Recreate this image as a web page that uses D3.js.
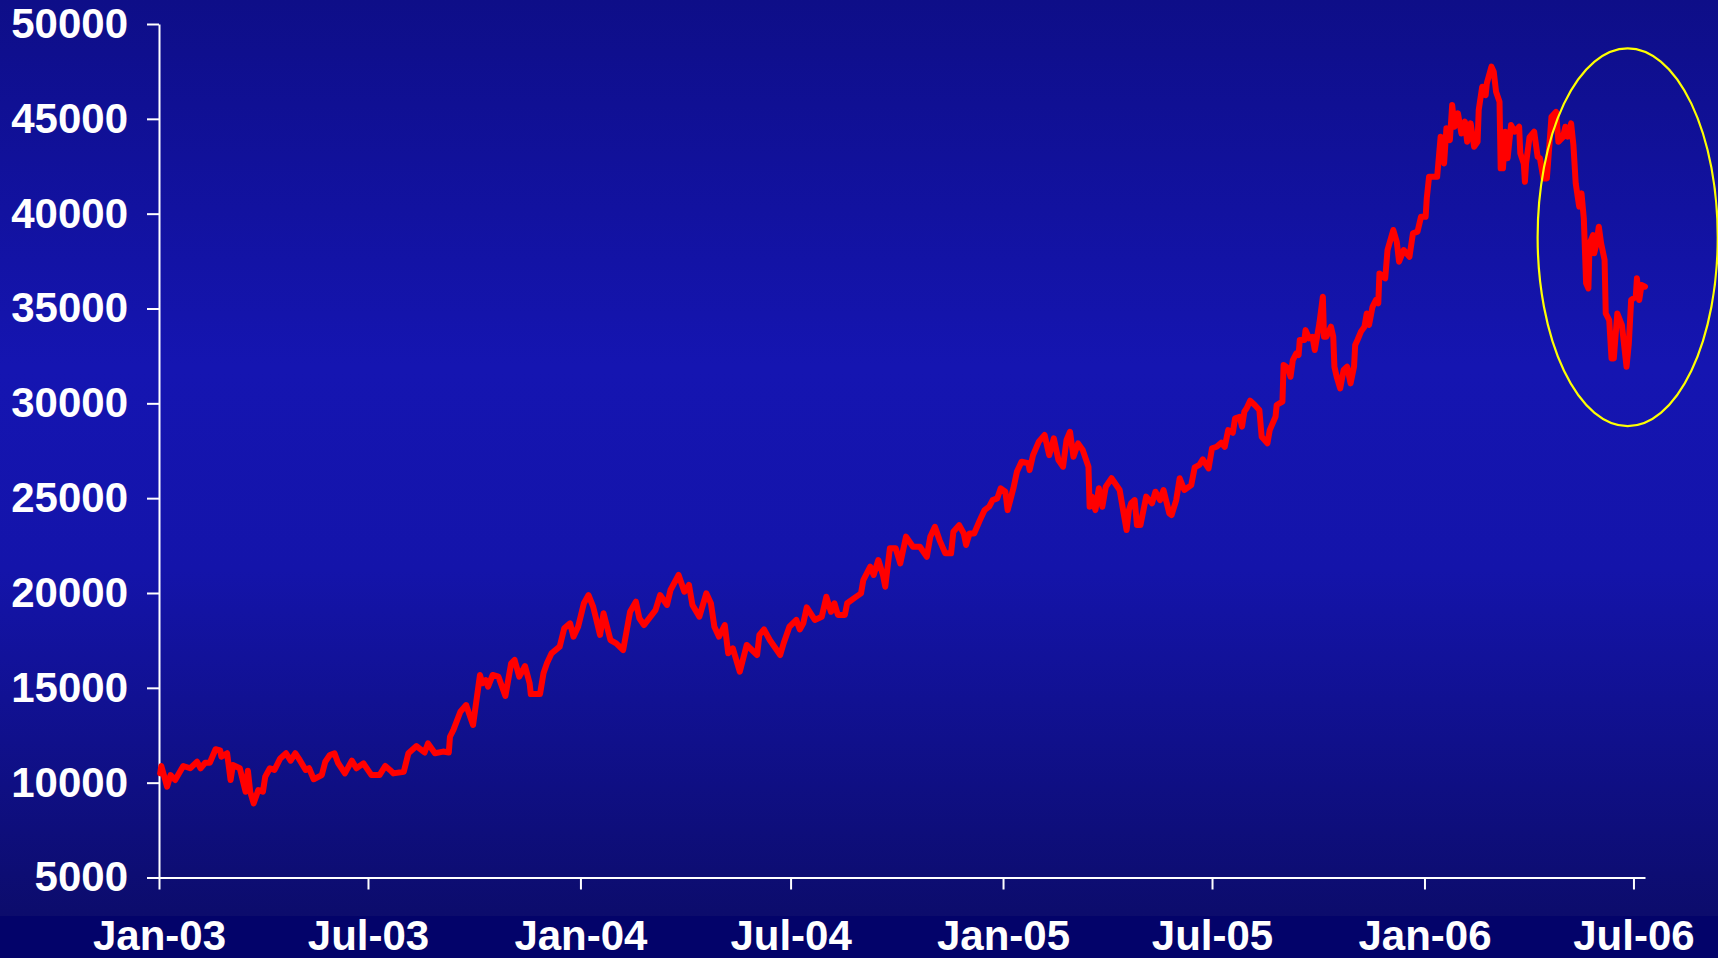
<!DOCTYPE html>
<html>
<head>
<meta charset="utf-8">
<script src="https://cdn.jsdelivr.net/npm/d3@7"></script>
<style>
  html, body { margin: 0; padding: 0; background: #0c0c6a; }
  svg { display: block; }
  text { font-family: "Liberation Sans", Arial, sans-serif; font-weight: bold; }
</style>
</head>
<body>
<svg id="chart" width="1718" height="958"></svg>
<script>
// Index level, sampled closes per year: [date, value]
const index2003 = [
  ["2003-01-02",10490],["2003-01-03",10880],["2003-01-08",9790],["2003-01-11",10400],
  ["2003-01-15",10140],["2003-01-22",10880],["2003-01-28",10760],["2003-02-03",11100],
  ["2003-02-06",10760],["2003-02-10",11050],["2003-02-14",11050],["2003-02-19",11760],
  ["2003-02-23",11700],["2003-02-24",11370],["2003-03-01",11550],["2003-03-04",10140],
  ["2003-03-06",10930],["2003-03-12",10760],["2003-03-17",9520],["2003-03-19",10630],
  ["2003-03-21",9520],["2003-03-24",8910],["2003-03-28",9610],["2003-04-01",9520],
  ["2003-04-03",10310],["2003-04-07",10760],["2003-04-11",10670],["2003-04-16",11280],
  ["2003-04-21",11550],["2003-04-25",11160],["2003-04-29",11550],["2003-05-02",11280],
  ["2003-05-08",10670],["2003-05-11",10760],["2003-05-15",10180],["2003-05-22",10400],
  ["2003-05-25",11100],["2003-05-29",11460],["2003-06-02",11550],["2003-06-05",11050],
  ["2003-06-11",10490],["2003-06-17",11160],["2003-06-21",10760],["2003-06-27",11020],
  ["2003-07-04",10400],["2003-07-11",10400],["2003-07-16",10880],["2003-07-20",10670],
  ["2003-07-23",10490],["2003-08-01",10580],["2003-08-05",11550],["2003-08-12",11930],
  ["2003-08-19",11590],["2003-08-22",12070],["2003-08-28",11550],["2003-09-04",11640],
  ["2003-09-09",11590],["2003-09-10",12420],["2003-09-13",12780],["2003-09-19",13740],
  ["2003-09-24",14090],["2003-09-30",13040],["2003-10-06",15680],["2003-10-08",15240],
  ["2003-10-11",15410],["2003-10-13",15060],["2003-10-17",15680],["2003-10-22",15590],
  ["2003-10-28",14570],["2003-11-02",16290],["2003-11-05",16470],["2003-11-09",15590],
  ["2003-11-14",16150],["2003-11-18",15240],["2003-11-19",14670],["2003-11-27",14670],
  ["2003-11-30",15770],["2003-12-03",16290],["2003-12-07",16820],["2003-12-14",17170],
  ["2003-12-18",18140],["2003-12-23",18400],["2003-12-26",17700],["2003-12-30",18220]
];
const index2004 = [
  ["2004-01-04",19460],["2004-01-08",19890],["2004-01-12",19280],["2004-01-18",17790],
  ["2004-01-21",18930],["2004-01-27",17520],["2004-02-01",17350],["2004-02-07",16990],
  ["2004-02-13",19010],["2004-02-18",19540],["2004-02-21",18670],["2004-02-25",18310],
  ["2004-03-06",19100],["2004-03-10",19890],["2004-03-16",19370],["2004-03-19",20160],
  ["2004-03-26",20950],["2004-03-31",20070],["2004-04-04",20420],["2004-04-07",19370],
  ["2004-04-13",18750],["2004-04-19",19980],["2004-04-23",19460],["2004-04-26",18220],
  ["2004-04-30",17700],["2004-05-05",18310],["2004-05-08",16820],["2004-05-12",17080],
  ["2004-05-18",15850],["2004-05-24",17260],["2004-06-02",16730],["2004-06-04",17790],
  ["2004-06-08",18080],["2004-06-13",17520],["2004-06-22",16730],["2004-06-25",17350],
  ["2004-06-30",18220],["2004-07-06",18580],["2004-07-09",18080],["2004-07-12",18400],
  ["2004-07-15",19240],["2004-07-22",18580],["2004-07-28",18750],["2004-08-01",19800],
  ["2004-08-05",19010],["2004-08-08",19460],["2004-08-11",18840],["2004-08-17",18840],
  ["2004-08-19",19460],["2004-08-26",19770],["2004-08-31",19980],["2004-09-02",20680],
  ["2004-09-08",21390],["2004-09-11",20950],["2004-09-15",21740],["2004-09-19",20950],
  ["2004-09-21",20330],["2004-09-25",22360],["2004-09-30",22360],["2004-10-04",21560],
  ["2004-10-09",22970],["2004-10-15",22440],["2004-10-21",22440],["2004-10-27",21910],
  ["2004-10-30",22970],["2004-11-03",23490],["2004-11-07",22790],["2004-11-12",22090],
  ["2004-11-17",22090],["2004-11-19",23230],["2004-11-24",23580],["2004-11-28",23140],
  ["2004-11-30",22530],["2004-12-03",23140],["2004-12-07",23140],["2004-12-12",23850],
  ["2004-12-16",24370],["2004-12-20",24550],["2004-12-23",24900],["2004-12-27",24990],
  ["2004-12-30",25520]
];
const index2005 = [
  ["2005-01-03",25340],["2005-01-05",24370],["2005-01-10",25520],["2005-01-13",26390],
  ["2005-01-17",26920],["2005-01-23",26840],["2005-01-24",26480],["2005-01-27",27270],
  ["2005-02-01",27980],["2005-02-06",28330],["2005-02-10",27270],["2005-02-14",28150],
  ["2005-02-18",27010],["2005-02-22",26660],["2005-02-25",28070],["2005-02-28",28500],
  ["2005-03-03",27180],["2005-03-07",27890],["2005-03-11",27540],["2005-03-16",26660],
  ["2005-03-17",24550],["2005-03-19",25080],["2005-03-22",24370],["2005-03-25",25520],
  ["2005-03-28",24550],["2005-03-31",25600],["2005-04-05",26050],["2005-04-12",25430],
  ["2005-04-15",24370],["2005-04-18",23320],["2005-04-20",24370],["2005-04-22",24730],
  ["2005-04-25",24900],["2005-04-27",23580],["2005-04-30",23580],["2005-05-05",25080],
  ["2005-05-10",24730],["2005-05-13",25340],["2005-05-17",24900],["2005-05-20",25430],
  ["2005-05-25",24200],["2005-05-27",24110],["2005-05-31",24900],["2005-06-03",26050],
  ["2005-06-07",25430],["2005-06-13",25690],["2005-06-16",26620],["2005-06-20",26750],
  ["2005-06-23",27050],["2005-06-28",26570],["2005-07-01",27630],["2005-07-05",27710],
  ["2005-07-09",27920],["2005-07-12",27710],["2005-07-15",28590],["2005-07-19",28450],
  ["2005-07-21",29210],["2005-07-25",29290],["2005-07-27",28770],["2005-07-29",29560],
  ["2005-07-31",29740],["2005-08-03",30140],["2005-08-07",29910],["2005-08-11",29650],
  ["2005-08-13",28240],["2005-08-18",27890],["2005-08-20",28590],["2005-08-25",29290],
  ["2005-08-26",29910],["2005-08-31",30090],["2005-09-01",32020],["2005-09-05",31840],
  ["2005-09-07",31400],["2005-09-09",32280],["2005-09-12",32640],["2005-09-14",32550],
  ["2005-09-15",33340],["2005-09-19",33340],["2005-09-20",33860],["2005-09-23",33430],
  ["2005-09-26",33510],["2005-09-28",32810],["2005-10-02",34220],["2005-10-05",35620],
  ["2005-10-06",33510],["2005-10-08",33510],["2005-10-12",34040],["2005-10-14",33510],
  ["2005-10-15",31930],["2005-10-17",31400],["2005-10-20",30790],["2005-10-23",31760],
  ["2005-10-26",31930],["2005-10-29",31050],["2005-11-01",31930],["2005-11-02",33070],
  ["2005-11-04",33340],["2005-11-07",33780],["2005-11-10",34040],["2005-11-12",34740],
  ["2005-11-14",34130],["2005-11-17",35090],["2005-11-20",35450],["2005-11-22",35270],
  ["2005-11-23",36850],["2005-11-26",36680],["2005-11-28",36590],["2005-11-30",38080],
  ["2005-12-05",39140],["2005-12-08",38520],["2005-12-10",37470],["2005-12-14",38080],
  ["2005-12-19",37730],["2005-12-22",38960],["2005-12-26",39050],["2005-12-29",39840]
];
const index2006 = [
  ["2006-01-02",39840],["2006-01-03",40810],["2006-01-05",41950],["2006-01-12",41950],
  ["2006-01-15",44060],["2006-01-18",42650],["2006-01-20",44500],["2006-01-23",43880],
  ["2006-01-25",45730],["2006-01-27",44580],["2006-01-30",45290],["2006-02-02",44230],
  ["2006-02-05",44850],["2006-02-07",43790],["2006-02-10",44760],["2006-02-13",43530],
  ["2006-02-16",43790],["2006-02-17",45470],["2006-02-20",46690],["2006-02-23",46250],
  ["2006-02-24",46870],["2006-02-28",47750],["2006-03-02",47480],["2006-03-04",46430],
  ["2006-03-07",45900],["2006-03-08",42390],["2006-03-10",42390],["2006-03-12",44320],
  ["2006-03-14",42920],["2006-03-17",44670],["2006-03-20",44320],["2006-03-24",44580],
  ["2006-03-25",43180],["2006-03-28",42650],["2006-03-29",41680],["2006-03-30",42650],
  ["2006-04-02",44030],["2006-04-06",44320],["2006-04-09",43000],["2006-04-11",42920],
  ["2006-04-14",41860],["2006-04-17",41860],["2006-04-18",42650],["2006-04-21",45110],
  ["2006-04-25",45370],["2006-04-27",43790],["2006-05-01",44030],["2006-05-03",44580],
  ["2006-05-05",44060],["2006-05-08",44760],["2006-05-10",43620],["2006-05-12",41600],
  ["2006-05-15",40370],["2006-05-17",41070],["2006-05-19",39760],["2006-05-21",36330],
  ["2006-05-23",36060],["2006-05-24",38430],["2006-05-27",38870],["2006-05-28",37910],
  ["2006-05-30",38430],["2006-06-01",39310],["2006-06-03",38430],["2006-06-06",37560],
  ["2006-06-07",34740],["2006-06-10",34390],["2006-06-12",32370],["2006-06-14",32370],
  ["2006-06-17",34740],["2006-06-21",34130],["2006-06-25",31930],["2006-06-27",33160],
  ["2006-06-29",35450],["2006-07-03",35620],["2006-07-04",36590],["2006-07-06",35450],
  ["2006-07-08",36240],["2006-07-11",36150]
];

// Axis settings
const yTickValues = [5000,10000,15000,20000,25000,30000,35000,40000,45000,50000];
const xDomain = ["2003-01-01", "2006-07-11"];
const yDomain = [5000, 50000];

// Highlighted sell-off: date span and value span enclosed by the ellipse
const highlightDates = ["2006-04-09", "2006-09-12"];
const highlightValues = [28800, 48720];

(function draw() {
  const parse = d3.timeParse("%Y-%m-%d");
  const series = [...index2003, ...index2004, ...index2005, ...index2006]
    .map(([d, v]) => ({ date: parse(d), value: v }));

  const W = 1718, H = 958;
  const plotLeft = 159, plotRight = 1645, plotTop = 24, plotBottom = 877.5;
  const bandTop = 916;

  const svg = d3.select("#chart");

  // Background: vertical blue gradient plus a darker band under the axis
  const defs = svg.append("defs");
  const grad = defs.append("linearGradient")
    .attr("id", "bg").attr("x1", 0).attr("y1", 0).attr("x2", 0).attr("y2", 1);
  [["0%", "#0e0e88"], ["40%", "#1515b1"], ["62%", "#1414aa"], ["100%", "#0c0c6c"]]
    .forEach(([o, c]) => grad.append("stop").attr("offset", o).attr("stop-color", c));

  svg.append("rect").attr("x", 0).attr("y", 0).attr("width", W).attr("height", bandTop)
    .attr("fill", "url(#bg)");
  svg.append("rect").attr("x", 0).attr("y", bandTop).attr("width", W).attr("height", H - bandTop)
    .attr("fill", "#03036a");

  const x = d3.scaleTime().domain(xDomain.map(parse)).range([plotLeft, plotRight]);
  const y = d3.scaleLinear().domain(yDomain).range([plotBottom, plotTop]);

  // Axes
  const xAxis = d3.axisBottom(x)
    .ticks(d3.timeMonth.every(6))
    .tickFormat(d3.timeFormat("%b-%y"))
    .tickSize(12).tickSizeOuter(0).tickPadding(31);
  const yAxis = d3.axisLeft(y)
    .tickValues(yTickValues)
    .tickFormat(d3.format("d"))
    .tickSize(12).tickSizeOuter(0).tickPadding(19);

  const gx = svg.append("g").attr("transform", `translate(0,${plotBottom})`).call(xAxis);
  const gy = svg.append("g").attr("transform", `translate(${plotLeft},0)`).call(yAxis);

  [gx, gy].forEach(g => {
    g.select(".domain").attr("stroke", "#ffffff").attr("stroke-width", 2);
    g.selectAll(".tick line").attr("stroke", "#ffffff").attr("stroke-width", 2);
    g.selectAll(".tick text")
      .attr("fill", "#ffffff")
      .style("font-size", "42px")
      .style("font-weight", "bold")
      .style("font-family", "'Liberation Sans', Arial, sans-serif");
  });

  // Index line
  const line = d3.line()
    .x(d => x(d.date))
    .y(d => y(d.value));

  svg.append("path")
    .datum(series)
    .attr("d", line)
    .attr("fill", "none")
    .attr("stroke", "#ff0000")
    .attr("stroke-width", 6)
    .attr("stroke-linejoin", "round")
    .attr("stroke-linecap", "round");

  // Ellipse marking the recent sell-off
  const hx = highlightDates.map(d => x(parse(d)));
  const hy = highlightValues.map(v => y(v));
  svg.append("ellipse")
    .attr("cx", (hx[0] + hx[1]) / 2)
    .attr("cy", (hy[0] + hy[1]) / 2)
    .attr("rx", Math.abs(hx[1] - hx[0]) / 2)
    .attr("ry", Math.abs(hy[1] - hy[0]) / 2)
    .attr("fill", "none")
    .attr("stroke", "#ffff00")
    .attr("stroke-width", 2.2);
})();
</script>
</body>
</html>
